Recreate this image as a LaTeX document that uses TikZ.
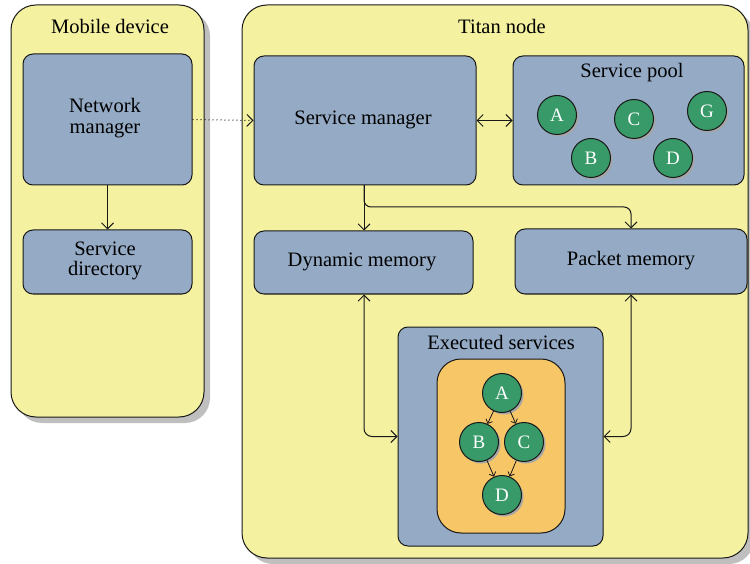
\documentclass[tikz,border=0pt]{standalone}
\usepackage{fontspec}
\setmainfont{Liberation Serif}
\usetikzlibrary{arrows.meta,shadows,positioning}
\definecolor{ylw}{RGB}{244,241,160}
\definecolor{blu}{RGB}{148,170,197}
\definecolor{org}{RGB}{247,198,103}
\definecolor{grn}{RGB}{56,154,104}
\definecolor{edge}{RGB}{25,25,25}
\tikzset{
  container/.style={draw=edge, line width=1pt, fill=ylw, rounded corners=25pt,
    drop shadow={shadow xshift=6pt, shadow yshift=-6pt, fill=black!25, opacity=1}},
  bluebox/.style={draw=edge, line width=1pt, fill=blu, rounded corners=10pt},
  orangebox/.style={draw=edge, line width=1pt, fill=org, rounded corners=24pt},
  svc/.style={circle, draw=edge, line width=1pt, fill=grn, minimum size=39pt, inner sep=0pt,
    text=white, font=\fontsize{19}{19}\selectfont,
    drop shadow={shadow xshift=2pt, shadow yshift=-2pt, fill=black!35, opacity=1}},
  lbl/.style={font=\fontsize{20.5}{20.5}\selectfont, align=center, inner sep=0pt},
  arr/.style={draw=edge, line width=1pt, -{Straight Barb[length=6pt,width=12pt]}},
  darr/.style={draw=edge, line width=1pt, {Straight Barb[length=6pt,width=12pt]}-{Straight Barb[length=6pt,width=12pt]}},
  sarr/.style={draw=edge, line width=0.8pt, -{Straight Barb[length=3.5pt,width=7pt]}},
}
\begin{document}
\begin{tikzpicture}[x=1pt,y=-1pt]
\useasboundingbox (0,0) rectangle (750,564);
% containers
\node[container, minimum width=193pt, minimum height=412pt] (mobile) at (107.5,211) {};
\node[container, minimum width=506pt, minimum height=553pt] (titan) at (495,281.5) {};
\node[lbl] (mobiletitle) at (110,26) {Mobile device};
\node[lbl] (titantitle) at (502,26) {Titan node};
% mobile device
\node[bluebox, minimum width=169pt, minimum height=131pt] (nm) at (107.5,119.5) {};
\node[lbl] (nmtext) at (105,118) {Network\\manager};
\node[bluebox, minimum width=169pt, minimum height=64pt] (sd) at (107.5,262) {};
\node[lbl] (sdtext) at (105,261) {Service\\directory};
% titan node
\node[bluebox, minimum width=222pt, minimum height=129pt] (sm) at (365,120.5) {};
\node[lbl] (smtext) at (363,120) {Service manager};
\node[bluebox, minimum width=231pt, minimum height=129pt] (pool) at (628.5,120.5) {};
\node[lbl] (pooltitle) at (632,73) {Service pool};
\node[svc] (pA) at (557,115) {A};
\node[svc] (pC) at (634,119) {C};
\node[svc] (pG) at (707,111) {G};
\node[svc] (pB) at (591,158) {B};
\node[svc] (pD) at (673,158) {D};
\node[bluebox, minimum width=219pt, minimum height=63pt] (dm) at (363.5,262.5) {};
\node[lbl] (dmtext) at (362,262) {Dynamic memory};
\node[bluebox, minimum width=232pt, minimum height=65pt] (pm) at (631,261.5) {};
\node[lbl] (pmtext) at (631,261) {Packet memory};
\node[bluebox, minimum width=205pt, minimum height=219pt] (es) at (500.5,436.5) {};
\node[lbl] (estitle) at (501,342) {Executed services};
\node[orangebox, minimum width=128pt, minimum height=174pt] (orange) at (501,446) {};
\node[svc] (eA) at (502,393) {A};
\node[svc] (eB) at (479,442) {B};
\node[svc] (eC) at (524,442) {C};
\node[svc] (eD) at (502,495) {D};
% connectors
\draw[arr] (nm) -- (sd);
\draw[arr, dash pattern=on 1pt off 3pt] (nm.east) -- (sm.west);
\draw[darr] (sm.east) -- (pool.west);
\coordinate (split) at (364,185);
\draw[arr] (split) -- (dm.north -| split);
\draw[arr, rounded corners=7pt] (split) -- ++(0,22) -| (pm.north);
\draw[darr, rounded corners=8pt] (dm.south -| split) |- (es.west);
\draw[darr, rounded corners=8pt] (pm.south) |- (es.east);
\draw[sarr] (eA) -- (eB);
\draw[sarr] (eA) -- (eC);
\draw[sarr] (eB) -- (eD);
\draw[sarr] (eC) -- (eD);
\end{tikzpicture}
\end{document}
